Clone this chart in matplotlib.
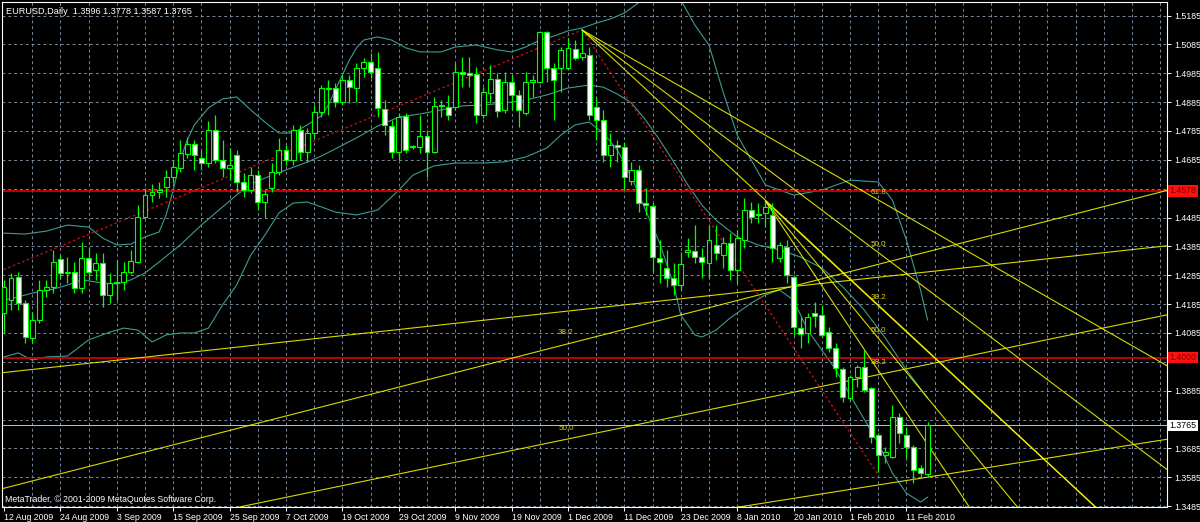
import numpy as np
import matplotlib
matplotlib.use('Agg')
import matplotlib.pyplot as plt

# ---- data -------------------------------------------------------------
header = 'EURUSD,Daily  1.3596 1.3778 1.3587 1.3765'
copyright_txt = 'MetaTrader, \u00a9 2001-2009 MetaQuotes Software Corp.'

date_labels = ['12 Aug 2009', '24 Aug 2009', '3 Sep 2009', '15 Sep 2009', '25 Sep 2009',
               '7 Oct 2009', '19 Oct 2009', '29 Oct 2009', '9 Nov 2009', '19 Nov 2009',
               '1 Dec 2009', '11 Dec 2009', '23 Dec 2009', '8 Jan 2010', '20 Jan 2010',
               '1 Feb 2010', '11 Feb 2010']
label_step = 8  # one date label every 8 bars

# daily OHLC, bar 0 = 12 Aug 2009, last bar = 16 Feb 2010
opens = [1.4154, 1.4199, 1.4279, 1.4189, 1.4067, 1.4130, 1.4234, 1.4244, 1.4341, 1.4293,
         1.4296, 1.4241, 1.4345, 1.4303, 1.4327, 1.4217, 1.4258, 1.4262, 1.4296, 1.4331,
         1.4487, 1.4563, 1.4574, 1.4591, 1.4626, 1.4657, 1.4705, 1.4740, 1.4691, 1.4674,
         1.4788, 1.4684, 1.4657, 1.4702, 1.4608, 1.4580, 1.4632, 1.4539, 1.4587, 1.4643,
         1.4719, 1.4684, 1.4788, 1.4712, 1.4778, 1.4851, 1.4934, 1.4934, 1.4885, 1.4962,
         1.4934, 1.5003, 1.5024, 1.5003, 1.4861, 1.4802, 1.4712, 1.4837, 1.4730, 1.4730,
         1.4768, 1.4712, 1.4872, 1.4868, 1.4868, 1.4989, 1.4986, 1.4983, 1.4840, 1.4917,
         1.4965, 1.4858, 1.4955, 1.4910, 1.4847, 1.4955, 1.4955, 1.5128, 1.5003, 1.5003,
         1.5003, 1.5069, 1.5041, 1.5048, 1.4868, 1.4823, 1.4702, 1.4736, 1.4730, 1.4612,
         1.4650, 1.4535, 1.4525, 1.4345, 1.4310, 1.4275, 1.4251, 1.4366, 1.4369, 1.4348,
         1.4327, 1.4390, 1.4355, 1.4397, 1.4303, 1.4407, 1.4511, 1.4497, 1.4501, 1.4494,
         1.4345, 1.4383, 1.4279, 1.4102, 1.4085, 1.4154, 1.4147, 1.4088, 1.4033, 1.3960,
         1.3860, 1.3932, 1.3967, 1.3894, 1.3731, 1.3662, 1.3655, 1.3794, 1.3731, 1.3690,
         1.3617, 1.3596]
highs = [1.4269, 1.4293, 1.4296, 1.4199, 1.4158, 1.4269, 1.4269, 1.4373, 1.4355, 1.4348,
         1.4331, 1.4400, 1.4383, 1.4362, 1.4362, 1.4293, 1.4338, 1.4331, 1.4373, 1.4528,
         1.4587, 1.4601, 1.4608, 1.4650, 1.4684, 1.4754, 1.4764, 1.4754, 1.4719, 1.4820,
         1.4840, 1.4754, 1.4726, 1.4719, 1.4639, 1.4660, 1.4650, 1.4580, 1.4674, 1.4761,
         1.4736, 1.4806, 1.4806, 1.4795, 1.4875, 1.4944, 1.4962, 1.4951, 1.4979, 1.4979,
         1.5021, 1.5038, 1.5055, 1.5059, 1.4892, 1.4823, 1.4847, 1.4847, 1.4738, 1.4840,
         1.4788, 1.4903, 1.4892, 1.4910, 1.5021, 1.5041, 1.5041, 1.5007, 1.4937, 1.5014,
         1.4986, 1.4989, 1.4979, 1.4927, 1.4989, 1.4979, 1.5133, 1.5130, 1.5021, 1.5076,
         1.5107, 1.5100, 1.5135, 1.5076, 1.4903, 1.4858, 1.4778, 1.4754, 1.4747, 1.4677,
         1.4667, 1.4587, 1.4535, 1.4407, 1.4373, 1.4327, 1.4366, 1.4414, 1.4459, 1.4379,
         1.4459, 1.4459, 1.4418, 1.4431, 1.4442, 1.4553, 1.4539, 1.4535, 1.4542, 1.4535,
         1.4400, 1.4407, 1.4286, 1.4140, 1.4154, 1.4192, 1.4182, 1.4106, 1.4050, 1.3967,
         1.3939, 1.3974, 1.4026, 1.3898, 1.3738, 1.3690, 1.3835, 1.3808, 1.3759, 1.3697,
         1.3627, 1.3778]
lows = [1.4085, 1.4165, 1.4165, 1.4050, 1.4050, 1.4120, 1.4210, 1.4223, 1.4275, 1.4258,
        1.4223, 1.4223, 1.4269, 1.4269, 1.4175, 1.4189, 1.4199, 1.4234, 1.4290, 1.4327,
        1.4483, 1.4539, 1.4553, 1.4556, 1.4605, 1.4643, 1.4691, 1.4650, 1.4650, 1.4660,
        1.4674, 1.4626, 1.4615, 1.4574, 1.4556, 1.4570, 1.4511, 1.4483, 1.4574, 1.4632,
        1.4667, 1.4667, 1.4684, 1.4677, 1.4761, 1.4833, 1.4840, 1.4868, 1.4875, 1.4882,
        1.4885, 1.4972, 1.4969, 1.4833, 1.4771, 1.4691, 1.4684, 1.4709, 1.4722, 1.4709,
        1.4626, 1.4709, 1.4833, 1.4823, 1.4858, 1.4937, 1.4937, 1.4813, 1.4830, 1.4882,
        1.4833, 1.4847, 1.4858, 1.4799, 1.4840, 1.4903, 1.4951, 1.4955, 1.4823, 1.4920,
        1.4996, 1.5031, 1.5031, 1.4823, 1.4754, 1.4677, 1.4660, 1.4677, 1.4580, 1.4598,
        1.4504, 1.4494, 1.4296, 1.4258, 1.4244, 1.4217, 1.4234, 1.4348, 1.4327, 1.4275,
        1.4275, 1.4338, 1.4310, 1.4269, 1.4258, 1.4379, 1.4466, 1.4466, 1.4452, 1.4331,
        1.4331, 1.4258, 1.4078, 1.4033, 1.4050, 1.4106, 1.4071, 1.4019, 1.3932, 1.3846,
        1.3853, 1.3898, 1.3880, 1.3704, 1.3603, 1.3634, 1.3652, 1.3704, 1.3652, 1.3565,
        1.3582, 1.3587]
closes = [1.4244, 1.4275, 1.4189, 1.4071, 1.4130, 1.4234, 1.4244, 1.4331, 1.4293, 1.4296,
          1.4241, 1.4345, 1.4296, 1.4327, 1.4217, 1.4258, 1.4262, 1.4296, 1.4334, 1.4487,
          1.4563, 1.4574, 1.4580, 1.4626, 1.4660, 1.4709, 1.4740, 1.4702, 1.4674, 1.4788,
          1.4684, 1.4657, 1.4667, 1.4608, 1.4580, 1.4632, 1.4539, 1.4567, 1.4643, 1.4719,
          1.4684, 1.4788, 1.4712, 1.4778, 1.4851, 1.4934, 1.4931, 1.4885, 1.4962, 1.4937,
          1.5003, 1.5024, 1.4989, 1.4865, 1.4806, 1.4712, 1.4833, 1.4719, 1.4733, 1.4768,
          1.4712, 1.4872, 1.4875, 1.4840, 1.4989, 1.4983, 1.4980, 1.4840, 1.4920, 1.4965,
          1.4854, 1.4955, 1.4910, 1.4858, 1.4955, 1.4962, 1.5128, 1.5003, 1.4962, 1.5066,
          1.5073, 1.5038, 1.5055, 1.4840, 1.4823, 1.4702, 1.4736, 1.4730, 1.4626, 1.4650,
          1.4535, 1.4528, 1.4348, 1.4331, 1.4275, 1.4251, 1.4324, 1.4373, 1.4348, 1.4331,
          1.4407, 1.4362, 1.4397, 1.4303, 1.4414, 1.4511, 1.4487, 1.4494, 1.4522, 1.4379,
          1.4390, 1.4286, 1.4106, 1.4081, 1.4140, 1.4144, 1.4078, 1.4033, 1.3964, 1.3863,
          1.3932, 1.3967, 1.3887, 1.3724, 1.3662, 1.3672, 1.3794, 1.3738, 1.3690, 1.3610,
          1.3600, 1.3765]

# Bollinger bands (20,2)
upper_bars = [0, 3, 6, 9, 12, 14, 16, 18, 20, 22, 23, 24, 25, 26, 27, 29, 31, 33, 35, 37,
              39, 41, 43, 45, 46, 47, 48, 49, 50, 51, 53, 55, 57, 59, 62, 64, 67, 70, 72, 74,
              76, 78, 80, 82, 84, 86, 88, 90, 91, 93, 95, 96, 98, 100, 102, 104, 106, 108,
              112, 116, 120, 124, 126, 128, 130, 131]
upper_vals = [1.4431, 1.4428, 1.4438, 1.4459, 1.4452, 1.4414, 1.4390, 1.4393, 1.4418, 1.4435,
              1.4494, 1.4580, 1.4684, 1.4754, 1.4806, 1.4865, 1.4896, 1.4903, 1.4858, 1.4816,
              1.4778, 1.4778, 1.4806, 1.4837, 1.4875, 1.4927, 1.4979, 1.5031, 1.5073, 1.5100,
              1.5111, 1.5100, 1.5073, 1.5059, 1.5059, 1.5076, 1.5083, 1.5066, 1.5059, 1.5076,
              1.5100, 1.5114, 1.5132, 1.5142, 1.5159, 1.5173, 1.5194, 1.5229, 1.5256, 1.5291,
              1.5274, 1.5239, 1.5152, 1.5083, 1.4920, 1.4771, 1.4684, 1.4598,
              1.4563, 1.4580, 1.4615, 1.4608, 1.4546, 1.4407, 1.4234, 1.4130]
mid_bars = [0, 2, 4, 7, 9, 11, 14, 16, 18, 20, 22, 25, 28, 30, 33, 35, 38, 40, 43, 45,
            47, 50, 53, 56, 59, 62, 65, 68, 71, 74, 77, 80, 83, 85, 87, 89, 91, 93, 95, 97,
            99, 101, 104, 107, 110, 113, 116, 119, 122, 125, 128, 131]
mid_vals = [1.4199, 1.4210, 1.4223, 1.4237, 1.4251, 1.4269, 1.4258, 1.4255, 1.4269, 1.4293,
            1.4331, 1.4390, 1.4459, 1.4501, 1.4563, 1.4601, 1.4632, 1.4650, 1.4677, 1.4698,
            1.4723, 1.4761, 1.4802, 1.4833, 1.4844, 1.4858, 1.4872, 1.4875, 1.4882, 1.4892,
            1.4910, 1.4934, 1.4944, 1.4937, 1.4913, 1.4882, 1.4823, 1.4754, 1.4678, 1.4598,
            1.4528, 1.4476, 1.4418, 1.4390, 1.4373, 1.4348, 1.4310, 1.4244, 1.4165, 1.4068,
            1.3957, 1.3860]
lower_bars = [0, 2, 4, 6, 9, 12, 15, 17, 19, 21, 23, 25, 27, 29, 31, 33, 35, 37, 39, 41,
              43, 45, 47, 50, 53, 56, 58, 61, 64, 68, 71, 74, 77, 79, 81, 83, 85, 87, 89, 91,
              93, 95, 96, 98, 99, 101, 103, 106, 108, 110, 112, 114, 116, 118, 121, 124, 126,
              128, 130, 131]
lower_vals = [1.4002, 1.4016, 1.3991, 1.4002, 1.4005, 1.4061, 1.4088, 1.4102, 1.4095, 1.4054,
              1.4078, 1.4085, 1.4085, 1.4102, 1.4182, 1.4251, 1.4355, 1.4424, 1.4501, 1.4535,
              1.4539, 1.4522, 1.4504, 1.4494, 1.4511, 1.4580, 1.4632, 1.4664, 1.4674, 1.4674,
              1.4678, 1.4695, 1.4726, 1.4771, 1.4806, 1.4816, 1.4778, 1.4719, 1.4626, 1.4511,
              1.4397, 1.4251, 1.4147, 1.4078, 1.4071, 1.4095, 1.4137, 1.4189, 1.4217, 1.4234,
              1.4199, 1.4095, 1.4026, 1.3957, 1.3828, 1.3704, 1.3600,
              1.3530, 1.3499, 1.3516]

# horizontal levels
red_levels = [1.4578, 1.4000]
last_price = 1.3765

# Fibonacci fans: (bar1, price1, bar2, price2)
fan_rise = (-196, 1.2321, 82, 1.5135)     # Oct 2008 low -> Dec 2009 high
fan_fall = (82, 1.5135, 124, 1.3593)      # Dec 2009 high -> Feb 2010 low
fan_fall2 = (108, 1.4542, 124, 1.3593)    # Jan 2010 high -> Feb 2010 low
fib_levels = [0.382, 0.5, 0.618]
# plain trend line (bar, price) pairs
trend = (0, 1.3948, 160, 1.4374)

# ---- figure ------------------------------------------------------------
W, H = 1200, 522
fig = plt.figure(figsize=(W / 100, H / 100), dpi=100, facecolor='black')
ax = fig.add_axes([2 / W, 15 / H, 1165 / W, 505 / H], facecolor='black')

n = len(opens)
xs = np.arange(n)
xmin, xmax = -0.28, 164.96
ymin, ymax = 1.3482, 1.5232

fnt = dict(family=['Liberation Sans', 'DejaVu Sans'], color='white')
grid_c = '#778899'
yellow = '#ffff00'
band_c = '#3d9c8e'
lime = '#00ff00'

# grid
yt = np.arange(1.3485, 1.5186, 0.01)
for g in yt:
    ax.axhline(g, color=grid_c, lw=0.7, ls=(0, (3, 3)), zorder=0)
for g in range(4, 165, 4):
    ax.axvline(g, color=grid_c, lw=0.7, ls=(0, (3, 3)), zorder=0)

# bollinger bands
ax.plot(upper_bars, upper_vals, color=band_c, lw=0.8, zorder=1)
ax.plot(mid_bars, mid_vals, color=band_c, lw=0.8, zorder=1)
ax.plot(lower_bars, lower_vals, color=band_c, lw=0.8, zorder=1)

# horizontal lines
for lv in red_levels:
    ax.axhline(lv, color='#e00000', lw=1.2, zorder=2)
ax.axhline(last_price, color='#c0c0c0', lw=0.7, zorder=2)

# trend line
tb1, tp1, tb2, tp2 = trend
tslope = (tp2 - tp1) / (tb2 - tb1)
ax.plot([xmin, xmax], [tp1 + tslope * (xmin - tb1), tp1 + tslope * (xmax - tb1)],
        color=yellow, lw=0.8, alpha=0.85, zorder=3)


def draw_fan(f, base=True, labels=(0.382, 0.5, 0.618), lab_dx=0.0, ha='center'):
    b1, p1, b2, p2 = f
    if base:
        ax.plot([b1, b2], [p1, p2], color='#d01010', lw=0.9, ls=(0, (2, 2)), zorder=3)
    for r in fib_levels:
        pr = p2 + r * (p1 - p2)
        s = (pr - p1) / (b2 - b1)
        ax.plot([b1, 200], [p1, p1 + s * (200 - b1)], color=yellow, lw=0.8,
                alpha=0.85, zorder=3)
        if r in labels:
            ax.annotate('%.1f' % (r * 100), (b2 + lab_dx, pr), xytext=(0, 3),
                        textcoords='offset points', ha=ha, va='bottom',
                        fontsize=5.8, color='#e8d400', family=fnt['family'], zorder=6)


draw_fan(fan_rise, labels=(0.382, 0.5), lab_dx=-1.2, ha='right')
draw_fan(fan_fall)
draw_fan(fan_fall2, base=False, labels=(0.382, 0.5))

# candles
up = [c >= o for o, c in zip(opens, closes)]
ax.vlines(xs, lows, highs, color=lime, lw=0.9, zorder=4)
body_lo = np.minimum(opens, closes)
body_h = np.maximum(np.abs(np.array(closes) - np.array(opens)), 0.0001)
ax.bar(xs, body_h, bottom=body_lo, width=0.7,
       color=['black' if u else 'white' for u in up],
       edgecolor=lime, linewidth=0.8, zorder=5)

ax.set_xlim(xmin, xmax)
ax.set_ylim(ymin, ymax)

# axes, ticks and labels
for sp in ax.spines.values():
    sp.set_color('white')
    sp.set_linewidth(0.8)
ax.yaxis.tick_right()
ax.set_yticks(yt)
# scale values hidden behind the price boxes are left blank
boxed = red_levels + [last_price]
ylabels = ['' if min(abs(v - b) for b in boxed) < 0.0025 else '%.4f' % v for v in yt]
ax.set_yticklabels(ylabels, fontsize=6.3, **fnt)
xt = list(range(0, label_step * len(date_labels), label_step))
ax.set_xticks(xt)
ax.set_xticklabels(date_labels, fontsize=6.3, ha='left', **fnt)
ax.tick_params(colors='white', length=3, width=0.7, pad=2)
ax.tick_params(axis='x', pad=1.5)

# price boxes on the right scale
for lv in red_levels:
    ax.annotate('%.4f' % lv, (1.0, lv), xycoords=('axes fraction', 'data'),
                xytext=(2, 0), textcoords='offset points', va='center', ha='left',
                fontsize=6.3, color='#7a0000', family=fnt['family'], zorder=10,
                annotation_clip=False,
                bbox=dict(boxstyle='square,pad=0.15', fc='#ff1010', ec='none'))
ax.annotate('%.4f' % last_price, (1.0, last_price), xycoords=('axes fraction', 'data'),
            xytext=(2, 0), textcoords='offset points', va='center', ha='left',
            fontsize=6.3, color='black', family=fnt['family'], zorder=10,
            annotation_clip=False,
            bbox=dict(boxstyle='square,pad=0.15', fc='white', ec='none'))

# header and copyright
ax.text(4 / 1165, 1 - 9 / 505, header, transform=ax.transAxes, fontsize=6.6,
        va='center', ha='left', zorder=10, **fnt)
ax.text(3 / 1165, 8 / 505, copyright_txt, transform=ax.transAxes, fontsize=6.3,
        va='center', ha='left', zorder=10, **fnt)

fig.savefig('out.png', dpi=100, facecolor='black')
